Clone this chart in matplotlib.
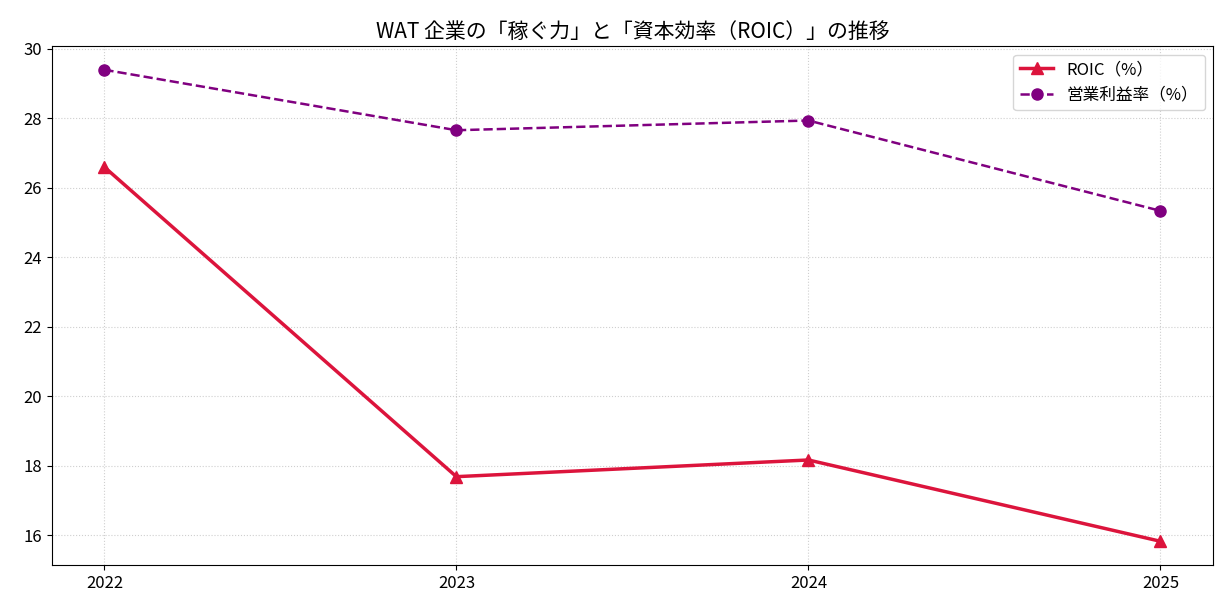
import matplotlib
matplotlib.use('Agg')
import matplotlib.pyplot as plt

plt.rcParams['font.family'] = ['Noto Sans CJK JP', 'DejaVu Sans']

# data
years = ['2022', '2023', '2024', '2025']
roic = [26.6, 17.69, 18.17, 15.83]
op_margin = [29.4, 27.66, 27.94, 25.34]

fig, ax = plt.subplots(figsize=(12.28, 6.16), dpi=100)

ax.plot(years, roic, color='crimson', marker='^', markersize=8, linewidth=2.5, label='ROIC（%）')
ax.plot(years, op_margin, color='purple', marker='o', markersize=8, linewidth=1.8,
        linestyle='--', label='営業利益率（%）')

ax.set_title('WAT 企業の「稼ぐ力」と「資本効率（ROIC）」の推移', fontsize=15)
ax.grid(True, linestyle=':', alpha=0.6)
ax.tick_params(labelsize=12)
ax.legend(loc='upper right', fontsize=12)

plt.subplots_adjust(left=0.042, right=0.988, top=0.925, bottom=0.083)
plt.savefig('out.png')
